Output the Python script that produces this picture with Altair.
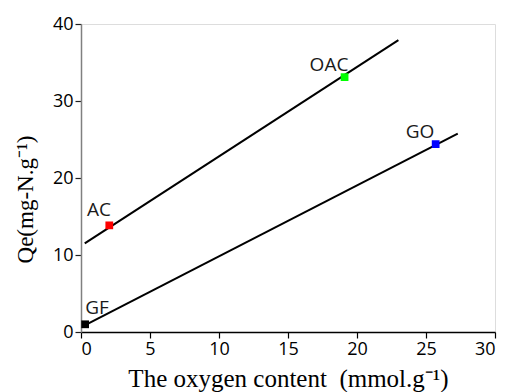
import altair as alt
import pandas as pd

# Data
samples = ["GF", "AC", "OAC", "GO"]
oxygen = [0.3, 2.05, 19.1, 25.7]
qe = [1.0, 13.85, 33.1, 24.4]
colors = ["#000000", "#ff0000", "#00ff00", "#0000ff"]

# annotation anchor points (data units)
label_x = [1.16, 1.3, 17.97, 24.57]
label_y = [2.34, 15.06, 33.9, 25.19]

# fitted lines (endpoints)
fit_group = ["upper", "upper", "lower", "lower"]
fit_x = [0.27, 23.0, 0.3, 27.3]
fit_y = [11.5, 37.9, 0.9, 25.75]

pts = pd.DataFrame({"sample": samples, "x": oxygen, "y": qe})
labs = pd.DataFrame({"sample": samples, "x": label_x, "y": label_y})
fits = pd.DataFrame({"g": fit_group, "x": fit_x, "y": fit_y})

xscale = alt.Scale(domain=[0, 30], nice=False, zero=False)
yscale = alt.Scale(domain=[0, 40], nice=False, zero=False)

xaxis = alt.Axis(
    title="The oxygen content\u00a0\u00a0(mmol.g⁻¹)",
    values=[0, 2.5, 5, 7.5, 10, 12.5, 15, 17.5, 20, 22.5, 25, 27.5, 30],
    labelExpr="datum.value % 5 === 0 ? datum.label : ''",
    tickSize={"condition": {"test": "datum.value % 5 === 0", "value": 6}, "value": 3},
    grid=False, domainColor="#000000", domainWidth=1.5, tickColor="#000000", tickWidth=1.2,
    labelFont="Open Sans", labelFontSize=18, labelColor="#000000", labelPadding=2,
    titleFont="Liberation Serif", titleFontSize=25, titleFontWeight="normal",
    titleColor="#000000", titleBaseline="alphabetic", titleY=54,
)
yaxis = alt.Axis(
    title="Qe(mg-N.g⁻¹)",
    values=[0, 5, 10, 15, 20, 25, 30, 35, 40],
    labelExpr="datum.value % 10 === 0 ? datum.label : ''",
    tickSize={"condition": {"test": "datum.value % 10 === 0", "value": 6}, "value": 3},
    grid=False, domainColor="#808080", domainWidth=1.5, tickColor="#202020", tickWidth=1.2,
    labelFont="Open Sans", labelFontSize=18, labelColor="#000000", labelPadding=2,
    titleFont="Liberation Serif", titleFontSize=23, titleFontWeight="normal",
    titleColor="#000000", titleX=-44, titleY=175, titleBaseline="bottom", titleAngle=270,
)

lines = alt.Chart(fits).mark_line(color="#000000", strokeWidth=2).encode(
    x=alt.X("x:Q", scale=xscale, axis=xaxis),
    y=alt.Y("y:Q", scale=yscale, axis=yaxis),
    detail="g:N",
)

points = alt.Chart(pts).mark_square(size=60, opacity=1).encode(
    x=alt.X("x:Q", scale=xscale),
    y=alt.Y("y:Q", scale=yscale),
    color=alt.Color("sample:N", scale=alt.Scale(domain=samples, range=colors), legend=None),
)

labels = alt.Chart(labs).mark_text(
    font="Open Sans", fontSize=19, color="#1a1a1a", align="center", baseline="alphabetic"
).encode(
    x=alt.X("x:Q", scale=xscale),
    y=alt.Y("y:Q", scale=yscale),
    text="sample:N",
)

chart = alt.layer(lines, points, labels).properties(
    width=414, height=308,
    autosize=alt.AutoSizeParams(type="none"),
    padding={"left": 81, "top": 24, "right": 13, "bottom": 60},
).configure_view(stroke=None).configure(background="white")

chart.save("out.html", embed_options={"renderer": "svg", "actions": False})
